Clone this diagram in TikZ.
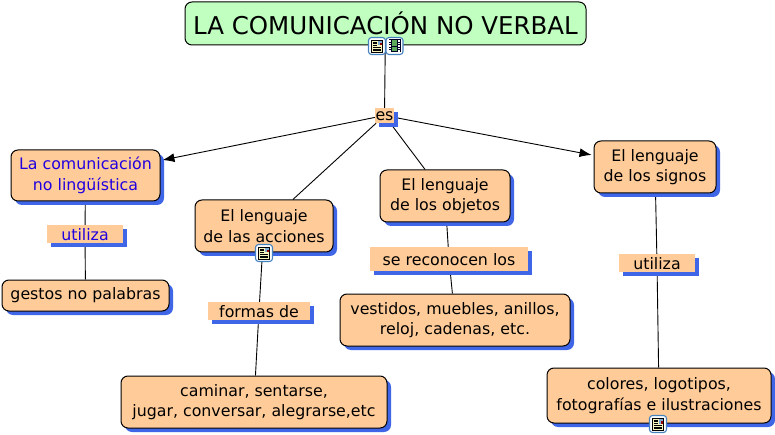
\documentclass[tikz,border=0pt]{standalone}
\usepackage{fontspec}
\setmainfont{DejaVu Sans}
\usetikzlibrary{shapes,arrows.meta,positioning,fit,backgrounds,calc,shadows}
\definecolor{boxorange}{RGB}{255,204,153}
\definecolor{boxgreen}{RGB}{192,255,192}
\definecolor{shadowblue}{RGB}{64,102,232}
\definecolor{textblue}{RGB}{32,0,224}
\definecolor{iconblue}{RGB}{70,130,190}
\definecolor{iconpaper}{RGB}{250,245,190}
\definecolor{iconfilm}{RGB}{90,170,90}
\tikzset{
    boxsize/.style 2 args={minimum width=#1pt,minimum height=#2pt},
    blueshadow/.style={drop shadow={shadow xshift=4pt,shadow yshift=-4pt,fill=shadowblue,opacity=1}},
    conceptbox/.style={draw=black,line width=1pt,fill=boxorange,rounded corners=7pt,inner sep=0pt,
        align=center,font=\fontsize{15.8}{20.5}\selectfont,blueshadow},
    linkbox/.style={fill=boxorange,inner sep=0pt,align=center,text height=12.5pt,text depth=0pt,
        font=\fontsize{15.8}{18}\selectfont,blueshadow},
    titlebox/.style={draw=black,line width=1pt,fill=boxgreen,rounded corners=7pt,inner sep=0pt,
        align=center,font=\fontsize{24.5}{28}\selectfont},
    connector/.style={draw=black,line width=0.9pt},
    arrowline/.style={connector,-{Latex[length=12pt,width=9pt]},shorten >=2pt},
    iconframe/.style={draw=iconblue,line width=1.1pt,fill=white,rounded corners=3pt,inner sep=0pt,minimum size=17pt},
    pics/pageicon/.style={code={
        \node[iconframe] (-frame) at (0,0) {};
        \draw[black,line width=0.7pt,fill=iconpaper] (-5.5,-6) rectangle (5.5,6);
        \fill[iconblue!70] (0.5,-5) rectangle (4.5,-0.5);
        \fill[red!60!black] (2.5,-3) rectangle (4.5,-0.5);
        \foreach \yline in {-4,-2.3,-0.6}
            \draw[black,line width=0.6pt] (-4.2,\yline) -- (-0.4,\yline);
        \foreach \yline in {1.2,3,4.7}
            \draw[black,line width=0.6pt] (-4.2,\yline) -- (4.2,\yline);
    }},
    pics/filmicon/.style={code={
        \node[iconframe] (-frame) at (0,0) {};
        \fill[black!85!blue] (-6,-6.5) rectangle (6,6.5);
        \fill[iconfilm] (-2.8,-5.5) rectangle (2.8,-0.4);
        \fill[iconfilm] (-2.8,0.6) rectangle (2.8,5.5);
        \foreach \yhole in {-5,-2.5,0,2.5,5}{
            \fill[white] (-5.2,\yhole-0.6) rectangle (-3.8,\yhole+0.6);
            \fill[white] (3.8,\yhole-0.6) rectangle (5.2,\yhole+0.6);
        }
    }}
}

\begin{document}
\begin{tikzpicture}[x=1pt,y=-1pt]
    \useasboundingbox (0,0) rectangle (775,435);

    % concepts
    \node[titlebox,boxsize={401}{43}] (titulo) at (385.5,23.5) {LA COMUNICACIÓN NO VERBAL};
    \node[conceptbox,boxsize={149}{51},text=textblue] (nolinguistica) at (85.5,175.5) {La comunicación\\no lingüística};
    \node[conceptbox,boxsize={138}{52}] (acciones) at (264,226) {El lenguaje\\de las acciones};
    \node[conceptbox,boxsize={130}{52}] (objetos) at (445,196) {El lenguaje\\de los objetos};
    \node[conceptbox,boxsize={122}{52}] (signos) at (655,167) {El lenguaje\\de los signos};
    \node[conceptbox,boxsize={167}{31}] (gestos) at (85.5,295.5) {gestos no palabras};
    \node[conceptbox,boxsize={230}{52}] (vestidos) at (455,320) {vestidos, muebles, anillos,\\reloj, cadenas, etc.};
    \node[conceptbox,boxsize={266}{52}] (caminar) at (254,402) {caminar, sentarse,\\jugar, conversar, alegrarse,etc};
    \node[conceptbox,boxsize={224}{55}] (colores) at (659,395.5) {colores, logotipos,\\fotografías e ilustraciones};

    % linking phrases
    \node[linkbox,boxsize={19}{15},text height=9.5pt] (es) at (384.5,115.5) {es};
    \node[linkbox,boxsize={76}{18},text=textblue] (utilizaizq) at (85,234) {utiliza};
    \node[linkbox,boxsize={102}{18}] (formas) at (259,311) {formas de};
    \node[linkbox,boxsize={158}{24}] (reconocen) at (449,259) {se reconocen los};
    \node[linkbox,boxsize={76}{18}] (utilizader) at (657,263) {utiliza};

    % connectors
    \begin{scope}[on background layer]
        \draw[connector] (titulo) -- (es);
        \draw[arrowline] (es) -- (nolinguistica);
        \draw[connector] (es) -- (acciones);
        \draw[connector] (es) -- (objetos);
        \draw[arrowline] (es) -- (signos);
        \draw[connector] (nolinguistica) -- (utilizaizq);
        \draw[connector] (utilizaizq) -- (gestos);
        \draw[connector] (acciones) -- (formas);
        \draw[connector] (formas) -- (caminar);
        \draw[connector] (objetos) -- (reconocen);
        \draw[connector] (reconocen) -- (vestidos);
        \draw[connector] (signos) -- (utilizader);
        \draw[connector] (utilizader) -- (colores);
    \end{scope}

    % icons
    \pic (pagetitulo) at (377,46) {pageicon};
    \pic (filmtitulo) at (394.5,46) {filmicon};
    \pic (pageacciones) at (264,253) {pageicon};
    \pic (pagecolores) at (658,424) {pageicon};
\end{tikzpicture}
\end{document}
